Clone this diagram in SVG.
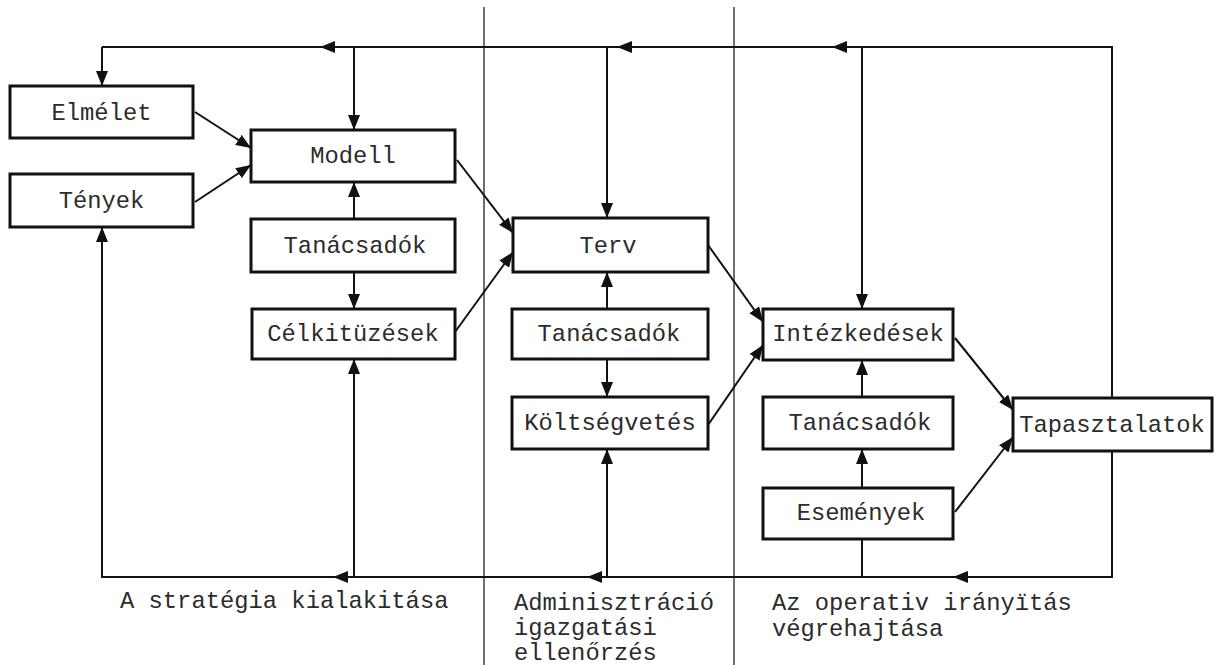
<svg xmlns="http://www.w3.org/2000/svg" width="1220" height="665" viewBox="0 0 1220 665">
  <style>
    .box { fill: #fff; stroke: #111; stroke-width: 3; }
    .lbl { font-family: "Liberation Mono", "DejaVu Sans Mono", monospace; font-size: 23.8px; fill: #2b2b2b; text-anchor: middle; }
    .cap { font-family: "Liberation Mono", "DejaVu Sans Mono", monospace; font-size: 23.8px; fill: #2b2b2b; }
    .wire { fill: none; stroke: #111; stroke-width: 2; }
    .arr { fill: none; stroke: #111; stroke-width: 2; marker-end: url(#ah); }
    .div { stroke: #222; stroke-width: 1.3; }
  </style>
  <defs>
    <marker id="ah" markerUnits="userSpaceOnUse" markerWidth="16" markerHeight="14" refX="15" refY="6" orient="auto">
      <path d="M0,0 L15,6 L0,12 z" fill="#111"/>
    </marker>
  </defs>
  <rect width="1220" height="665" fill="#fff"/>

  <!-- column dividers -->
  <g id="dividers">
    <line class="div" x1="484" y1="7" x2="484" y2="665"/>
    <line class="div" x1="734" y1="7" x2="734" y2="665"/>
  </g>

  <g id="connectors">
    <!-- upper feedback bus -->
    <path class="wire" d="M1112,398 L1112,47 L102,47"/>
    <path class="arr" d="M102,47 L102,86"/>
    <path class="arr" d="M354,47 L354,130"/>
    <path class="arr" d="M607,47 L607,218"/>
    <path class="arr" d="M862,47 L862,309"/>
    <path class="arr" d="M345,47 L320,47"/>
    <path class="arr" d="M640,47 L617,47"/>
    <path class="arr" d="M855,47 L832,47"/>

    <!-- lower feedback bus -->
    <path class="wire" d="M1112,451 L1112,577 L102,577 L102,240"/>
    <path class="arr" d="M102,250 L102,227"/>
    <path class="wire" d="M862,539 L862,577"/>
    <path class="arr" d="M607,577 L607,449"/>
    <path class="arr" d="M354,577 L354,359"/>
    <path class="arr" d="M975,577 L953,577"/>
    <path class="arr" d="M605,577 L587,577"/>
    <path class="arr" d="M352,577 L333,577"/>

    <!-- vertical links inside the columns -->
    <path class="arr" d="M354,219 L354,182"/>
    <path class="arr" d="M354,272 L354,309"/>
    <path class="arr" d="M607,309 L607,272"/>
    <path class="arr" d="M607,359 L607,397"/>
    <path class="arr" d="M862,397 L862,360"/>
    <path class="arr" d="M862,488 L862,449"/>

    <!-- diagonal links -->
    <path class="arr" d="M195,112 L251,148"/>
    <path class="arr" d="M195,202 L251,165"/>
    <path class="arr" d="M457,160 L513,233"/>
    <path class="arr" d="M455,332 L513,252"/>
    <path class="arr" d="M708,245 L763,322"/>
    <path class="arr" d="M708,425 L763,345"/>
    <path class="arr" d="M955,338 L1013,410"/>
    <path class="arr" d="M955,512 L1013,437"/>
  </g>

  <g id="elmelet"><rect class="box" x="10" y="86" width="183" height="52"/><text class="lbl" x="101.5" y="120">Elmélet</text></g>
  <g id="tenyek"><rect class="box" x="10" y="174" width="183" height="53"/><text class="lbl" x="101.5" y="208">Tények</text></g>
  <g id="modell"><rect class="box" x="251" y="130" width="204" height="52"/><text class="lbl" x="353" y="163">Modell</text></g>
  <g id="tanacsadok1"><rect class="box" x="251" y="219" width="204" height="53"/><text class="lbl" x="355" y="253">Tanácsadók</text></g>
  <g id="celkituzesek"><rect class="box" x="252" y="309" width="203" height="50"/><text class="lbl" x="353" y="341">Célkitüzések</text></g>
  <g id="terv"><rect class="box" x="513" y="218" width="195" height="54"/><text class="lbl" x="608" y="253">Terv</text></g>
  <g id="tanacsadok2"><rect class="box" x="512" y="309" width="196" height="50"/><text class="lbl" x="609" y="341">Tanácsadók</text></g>
  <g id="koltsegvetes"><rect class="box" x="512" y="397" width="196" height="52"/><text class="lbl" x="610" y="430">Költségvetés</text></g>
  <g id="intezkedesek"><rect class="box" x="763" y="309" width="190" height="51"/><text class="lbl" x="858" y="341">Intézkedések</text></g>
  <g id="tanacsadok3"><rect class="box" x="763" y="397" width="190" height="52"/><text class="lbl" x="860" y="430">Tanácsadók</text></g>
  <g id="esemenyek"><rect class="box" x="763" y="488" width="190" height="51"/><text class="lbl" x="861" y="520">Események</text></g>
  <g id="tapasztalatok"><rect class="box" x="1013" y="398" width="199" height="53"/><text class="lbl" x="1112" y="432">Tapasztalatok</text></g>

  <!-- column captions -->
  <g id="captions">
    <text class="cap" x="120" y="608">A stratégia kialakitása</text>
    <text class="cap" x="514" y="610">Adminisztráció</text>
    <text class="cap" x="514" y="635">igazgatási</text>
    <text class="cap" x="514" y="660">ellenőrzés</text>
    <text class="cap" x="772" y="610">Az operativ irányïtás</text>
    <text class="cap" x="772" y="636">végrehajtása</text>
  </g>
</svg>
